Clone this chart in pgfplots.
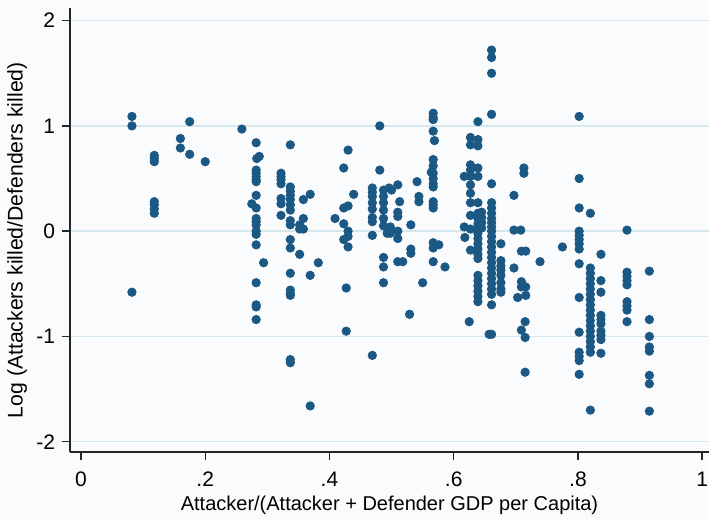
\documentclass[border=0pt]{standalone}
\usepackage{fontspec}
\setmainfont{Liberation Sans}
\usepackage{pgfplots}
\pgfplotsset{compat=1.18}
\definecolor{dot}{RGB}{28,88,132}
\definecolor{gridc}{RGB}{212,232,238}
\definecolor{bg}{RGB}{250,251,253}
\begin{document}
\begin{tikzpicture}
\path[use as bounding box, fill=bg] (-35pt,-34pt) rectangle (319.5pt,226pt);
\begin{axis}[
 anchor=south west, at={(0,0)},
 scale only axis, width=319.5pt, height=222pt,
 xmin=-0.0177, xmax=1.011, ymin=-2.098, ymax=2.12,
 axis x line=bottom, axis y line=left,
 axis line style={-, line width=0.9pt, black!85},
 xtick={0,0.2,0.4,0.6,0.8,1}, xticklabels={0,.2,.4,.6,.8,1},
 ytick={-2,-1,0,1,2},
 ymajorgrids, grid style={gridc, line width=0.7pt},
 tick style={black!85, line width=0.7pt}, major tick length=4pt, tick align=outside,
 axis background/.style={fill=bg},
 ticklabel style={font=\fontsize{10.5}{12}\selectfont},
 xticklabel style={yshift=-2.5pt},
 xlabel={Attacker/(Attacker + Defender GDP per Capita)},
 ylabel={Log (Attackers killed/Defenders killed)},
 xlabel style={font=\fontsize{10}{12}\selectfont, at={(axis description cs:0.5,-0.1194)}, anchor=center},
 ylabel style={font=\fontsize{10.6}{12}\selectfont, at={(axis description cs:-0.0829,0.477)}, anchor=center, rotate=0},
 /pgf/number format/assume math mode=true,
 clip=false,
]
\addplot[only marks, mark=*, mark size=2.1pt, mark options={draw=dot, fill=dot}] table {
x y
0.082 1.09
0.082 1.00
0.082 -0.58
0.118 0.72
0.118 0.69
0.118 0.66
0.118 0.28
0.118 0.25
0.118 0.21
0.118 0.17
0.160 0.88
0.160 0.79
0.175 1.04
0.175 0.73
0.200 0.66
0.259 0.97
0.282 0.84
0.282 0.58
0.282 0.55
0.282 0.52
0.282 0.49
0.282 0.47
0.282 0.34
0.282 0.22
0.282 0.12
0.282 0.09
0.282 0.06
0.282 0.00
0.282 -0.03
0.282 -0.13
0.282 -0.49
0.282 -0.70
0.282 -0.72
0.282 -0.84
0.283 0.69
0.287 0.71
0.275 0.26
0.294 -0.30
0.322 0.55
0.322 0.52
0.322 0.49
0.322 0.45
0.322 0.31
0.322 0.26
0.322 0.15
0.337 0.82
0.337 0.42
0.337 0.38
0.337 0.34
0.337 0.30
0.337 0.25
0.337 0.20
0.337 0.10
0.337 0.06
0.337 -0.08
0.337 -0.16
0.337 -0.40
0.337 -0.56
0.337 -0.59
0.337 -0.61
0.337 -1.22
0.337 -1.25
0.358 0.30
0.358 0.12
0.369 0.35
0.369 -0.42
0.369 -1.66
0.352 0.06
0.352 0.02
0.358 0.02
0.352 -0.22
0.382 -0.30
0.409 0.12
0.423 0.60
0.423 0.22
0.423 0.07
0.423 -0.08
0.430 0.77
0.430 0.24
0.430 0.00
0.430 -0.05
0.430 -0.15
0.439 0.35
0.427 -0.54
0.427 -0.95
0.469 0.41
0.469 0.37
0.469 0.33
0.469 0.27
0.469 0.21
0.469 0.13
0.469 0.09
0.469 -0.04
0.469 -1.18
0.481 1.00
0.481 0.58
0.487 0.39
0.487 0.33
0.487 0.27
0.487 0.20
0.487 0.12
0.487 0.05
0.487 -0.25
0.487 -0.34
0.487 -0.49
0.493 -0.02
0.496 0.41
0.500 0.39
0.498 0.04
0.498 -0.02
0.510 0.44
0.513 0.28
0.510 0.18
0.510 0.14
0.510 0.00
0.510 -0.07
0.510 -0.29
0.518 -0.29
0.531 0.06
0.531 -0.17
0.531 -0.21
0.541 0.47
0.544 0.33
0.544 0.28
0.529 -0.79
0.550 -0.49
0.567 1.12
0.567 1.08
0.567 1.06
0.567 0.95
0.569 0.86
0.567 0.68
0.567 0.62
0.567 0.55
0.567 0.50
0.567 0.45
0.567 0.42
0.567 0.28
0.567 0.25
0.567 0.22
0.567 -0.11
0.567 -0.16
0.567 -0.29
0.564 0.56
0.576 -0.13
0.586 -0.34
0.617 0.52
0.617 0.04
0.618 -0.06
0.627 0.89
0.627 0.82
0.627 0.63
0.627 0.58
0.627 0.52
0.627 0.44
0.627 0.36
0.627 0.27
0.627 0.15
0.627 0.02
0.627 -0.18
0.625 -0.86
0.639 1.04
0.639 0.87
0.639 0.81
0.639 0.60
0.639 0.52
0.639 0.27
0.639 0.17
0.639 0.12
0.639 0.07
0.639 0.02
0.639 -0.02
0.639 -0.07
0.639 -0.12
0.639 -0.17
0.639 -0.22
0.639 -0.26
0.639 -0.42
0.639 -0.47
0.639 -0.52
0.639 -0.57
0.639 -0.62
0.639 -0.67
0.645 0.18
0.645 0.13
0.645 0.08
0.645 0.03
0.661 1.72
0.661 1.65
0.661 1.50
0.661 1.11
0.661 0.45
0.661 0.27
0.661 0.22
0.661 0.17
0.661 0.12
0.661 0.08
0.661 0.04
0.661 0.00
0.661 -0.05
0.661 -0.10
0.661 -0.15
0.661 -0.20
0.661 -0.25
0.661 -0.30
0.661 -0.35
0.661 -0.40
0.661 -0.45
0.661 -0.50
0.661 -0.55
0.661 -0.60
0.661 -0.70
0.661 -0.98
0.657 -0.98
0.676 -0.12
0.676 -0.28
0.676 -0.33
0.676 -0.37
0.676 -0.42
0.676 -0.49
0.676 -0.55
0.676 -0.58
0.697 0.34
0.697 0.01
0.697 -0.35
0.708 0.01
0.713 0.60
0.713 0.55
0.709 -0.19
0.709 -0.48
0.709 -0.53
0.716 -0.19
0.716 -0.53
0.716 -0.61
0.703 -0.63
0.715 -0.86
0.715 -1.01
0.715 -1.34
0.709 -0.94
0.739 -0.29
0.775 -0.15
0.802 1.09
0.802 0.50
0.802 0.22
0.802 0.00
0.802 -0.04
0.802 -0.08
0.802 -0.12
0.802 -0.17
0.802 -0.31
0.802 -0.63
0.802 -0.96
0.802 -1.15
0.802 -1.19
0.802 -1.23
0.802 -1.36
0.820 0.17
0.820 -0.35
0.820 -0.40
0.820 -0.45
0.820 -0.50
0.820 -0.55
0.820 -0.60
0.820 -0.65
0.820 -0.70
0.820 -0.75
0.820 -0.80
0.820 -0.85
0.820 -0.90
0.820 -0.95
0.820 -1.00
0.820 -1.05
0.820 -1.10
0.820 -1.15
0.820 -1.70
0.837 -0.22
0.837 -0.47
0.837 -0.58
0.837 -0.80
0.837 -0.84
0.837 -0.88
0.837 -0.95
0.837 -0.99
0.837 -1.03
0.837 -1.16
0.879 0.01
0.879 -0.39
0.879 -0.43
0.879 -0.47
0.879 -0.51
0.879 -0.67
0.879 -0.71
0.879 -0.75
0.879 -0.86
0.915 -0.38
0.915 -0.84
0.915 -1.00
0.915 -1.10
0.915 -1.14
0.915 -1.37
0.915 -1.45
0.915 -1.71
};
\end{axis}
\end{tikzpicture}
\end{document}
